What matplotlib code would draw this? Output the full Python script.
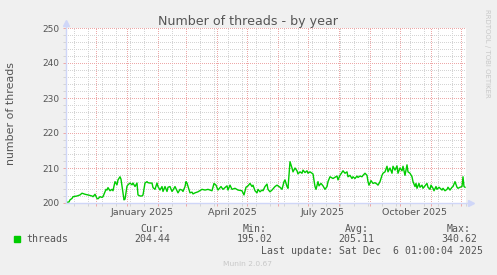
import datetime as dt
import numpy as np
import matplotlib
matplotlib.use("Agg")
import matplotlib.pyplot as plt
import matplotlib.dates as mdates
from matplotlib.patches import Rectangle
from matplotlib.ticker import MultipleLocator, FixedLocator, NullFormatter

# graph window: 400 days ending at the last update
end = dt.datetime(2025, 12, 6, 1, 0, 4)
start = end - dt.timedelta(days=400)

# day offsets from start of window, and thread counts
days = [1, 3, 4, 6, 7, 11, 14, 16, 19, 22, 26, 27, 29, 31, 32, 34, 36, 37,
        40, 41, 42, 44, 46, 47, 49, 51, 52, 54, 55, 56, 57, 58, 59, 61, 62,
        64, 66, 67, 69, 71, 72, 74, 76, 77, 79, 81, 82, 84, 86, 87, 89, 91,
        92, 94, 96, 97, 99, 101, 102, 104, 106, 107, 109, 111, 112, 114, 116,
        117, 119, 120, 121, 123, 124, 126, 127,
        129, 132, 136, 139, 142, 146, 148, 150, 152, 155, 157, 161, 162, 164,
        166, 169, 172, 176, 178, 180, 182, 184, 186, 187, 189, 191, 192, 194,
        196, 197, 199, 201, 202, 204, 206, 209, 211, 212, 214, 216, 218, 219,
        221, 222, 224, 226, 227, 229, 231, 232, 234, 236, 237, 239, 241, 242,
        244, 246, 247, 249, 250, 252, 253, 255, 257, 259, 261, 262,
        264, 267, 271, 272, 274, 277, 279, 281, 282, 284, 286, 287, 289, 291,
        292, 294, 296, 297, 299, 301, 302, 303, 305, 307, 309, 311, 312, 314,
        316, 317, 319, 321, 322, 324, 326, 327, 329, 331, 332, 334, 336, 337,
        339, 341, 342, 344, 346, 347, 349, 350, 351, 353, 354, 356, 357, 359,
        361, 362, 364, 365, 367, 368, 370, 371, 373, 376, 377, 379, 381, 382,
        384, 386, 387, 389, 391, 392, 394, 396, 397, 398, 399]
threads = [200.2, 200.3, 200.9, 201.3, 201.8, 202.0, 202.3, 202.8, 202.5, 202.3,
           202.0, 201.8, 202.5, 201.3, 201.2, 201.8, 201.6, 201.8,
           203.9, 203.7, 204.4, 203.5, 203.9, 203.5, 206.1, 205.2, 206.6, 207.5,
           206.8, 204.8, 202.8, 200.9, 201.1, 204.8, 205.2,
           205.7, 205.2, 205.7, 204.7, 205.7, 202.3, 202.0, 202.0, 202.3, 205.7,
           206.1, 205.8, 205.7, 205.7, 204.4, 203.9, 205.7,
           204.7, 203.7, 204.7, 203.3, 204.7, 203.3, 204.5, 204.7, 203.3, 203.7,
           204.7, 203.5, 202.9, 203.9, 203.7,
           203.3, 204.7, 206.1, 205.7, 203.9, 202.9, 203.1, 202.6,
           202.9, 203.2, 203.9, 203.7, 203.9, 203.5, 205.6, 205.1, 203.7, 204.7,
           203.9, 204.9, 203.7, 205.1,
           203.9, 204.2, 203.7, 203.5, 202.3, 204.5, 204.9, 205.6, 204.7, 205.1,
           203.5, 202.9, 203.9, 203.2,
           203.7, 203.5, 204.7, 205.4, 203.9, 203.2, 203.7, 204.7, 205.1, 204.9,
           204.5, 203.9, 206.1, 206.6,
           204.7, 204.2, 211.8, 210.0, 208.9, 210.0, 209.2, 208.3, 208.9, 208.5,
           209.4, 208.7, 209.2, 208.5,
           208.9, 208.5, 208.3, 204.7, 203.9, 206.1, 204.9, 205.6, 204.9, 203.9,
           204.7, 206.1,
           207.5, 207.0, 207.7, 206.6, 207.9, 209.2, 208.5, 208.9, 207.5, 207.9,
           207.0, 207.5, 207.0, 207.7,
           207.3, 207.7, 207.5, 207.9, 208.5, 207.9, 206.1, 205.1, 206.4, 205.6,
           205.8, 205.4, 205.1, 206.1,
           207.9, 208.5, 208.9, 210.5, 208.9, 210.0, 208.5, 210.5, 209.4, 210.6,
           208.5, 210.0, 209.2, 210.5,
           207.9, 210.9, 208.9, 208.5, 207.5, 206.1, 204.7, 205.6, 204.2, 205.6,
           204.5, 205.1, 204.2, 204.9,
           205.6, 204.5, 203.9, 205.1, 204.2, 203.5, 204.7, 203.9, 204.5, 203.7,
           204.2, 203.5, 203.9, 204.5,
           203.7, 204.5, 204.7, 206.1, 204.5, 204.2, 204.5, 204.7, 207.5, 204.7,
           204.5]

month_labels = ["January 2025", "April 2025", "July 2025", "October 2025"]
label_dates = [dt.datetime(2025, 1, 16), dt.datetime(2025, 4, 16),
               dt.datetime(2025, 7, 16), dt.datetime(2025, 10, 16)]

legend_heads = ["Cur:", "Min:", "Avg:", "Max:"]
legend_vals = ["204.44", "195.02", "205.11", "340.62"]

W, H = 497, 275
def fx(x): return x / W
def fy(y): return 1 - y / H

FONT = "#555555"
AXIS = "#CFD6F8"
MGRID = "#EDA8A8"
GRID = "#D4D4D4"

fig = plt.figure(figsize=(W / 100, H / 100), dpi=100, facecolor="#F0F0F0")
ax = fig.add_axes([fx(66), fy(203), 400 / W, 175 / H])
ax.set_facecolor("white")

x = [start + dt.timedelta(days=d) for d in days]
ax.plot(x, threads, color="#00CC00", lw=1.0, zorder=3)

ax.set_xlim(start, end)
ax.set_ylim(200, 250)

# grid (dotted, crisp pixels like rrdtool)
ax.yaxis.set_major_locator(MultipleLocator(10))
ax.yaxis.set_minor_locator(MultipleLocator(2))
ax.xaxis.set_major_locator(mdates.MonthLocator())
minor_x = mdates.date2num([dt.datetime(2024, 11, 9) + dt.timedelta(days=14 * i) for i in range(29)])
ax.xaxis.set_minor_locator(FixedLocator(minor_x))
ax.xaxis.set_major_formatter(NullFormatter())
ax.grid(which="minor", color=GRID, lw=0.72, ls=(0, (1, 2)), antialiased=False)
ax.grid(which="major", color=MGRID, lw=0.72, ls=(0, (1, 2)), antialiased=False)
ax.set_axisbelow(True)

ax.tick_params(axis="y", which="major", length=2, width=0.72, color=MGRID,
               pad=3, labelsize=6.5, labelcolor=FONT)
ax.tick_params(axis="y", which="minor", length=2, width=0.72, color=GRID)
ax.tick_params(axis="x", which="major", length=2.5, width=0.72, color=MGRID)
ax.tick_params(axis="x", which="minor", length=2, width=0.72, color=GRID)

for s in ax.spines.values():
    s.set_visible(False)
ax.plot([0, 1.012], [0, 0], transform=ax.transAxes, color=AXIS, lw=1, clip_on=False, zorder=4)
ax.plot([0, 0], [0, 1.03], transform=ax.transAxes, color=AXIS, lw=1, clip_on=False, zorder=4)
ax.plot([1.012], [0], marker=">", ms=4, color=AXIS, transform=ax.transAxes, clip_on=False, zorder=4)
ax.plot([0], [1.03], marker="^", ms=4, color=AXIS, transform=ax.transAxes, clip_on=False, zorder=4)

for lab, d in zip(month_labels, label_dates):
    ax.text(d, -0.054, lab, transform=ax.get_xaxis_transform(), ha="center",
            va="center", fontsize=6.8, color=FONT)

fig.text(fx(248.5), fy(25), "Number of threads - by year", ha="center",
         va="baseline", fontsize=9.1, color=FONT)
fig.text(fx(11), fy(113.5), "number of threads", rotation=90, ha="center",
         va="center", fontsize=7.9, color=FONT)

mono = "DejaVu Sans Mono"
fig.add_artist(Rectangle((fx(14), fy(242)), 6 / W, 6 / H, transform=fig.transFigure,
                         color="#00CC00"))
fig.text(fx(26.7), fy(239.3), "threads", ha="left", va="center",
         fontsize=7.1, family=mono, color=FONT)
for cx, h, v in zip([152, 254.5, 356.5, 459], legend_heads, legend_vals):
    fig.text(fx(cx), fy(228.5), h, ha="center", va="center", fontsize=7.1,
             family=mono, color=FONT)
    fig.text(fx(cx), fy(239.3), v, ha="center", va="center", fontsize=7.1,
             family=mono, color=FONT)
fig.text(fx(372), fy(251), "Last update: Sat Dec  6 01:00:04 2025", ha="center",
         va="center", fontsize=7.1, family=mono, color=FONT)

fig.text(fx(247.5), fy(264), "Munin 2.0.67", ha="center", va="center",
         fontsize=5.4, color="#C8C8C8")
fig.text(fx(487.5), fy(53), "RRDTOOL / TOBI OETIKER", rotation=270, ha="center",
         va="center", fontsize=5.0, color="#C8C8C8")

fig.savefig("out.png", dpi=100, facecolor=fig.get_facecolor())
